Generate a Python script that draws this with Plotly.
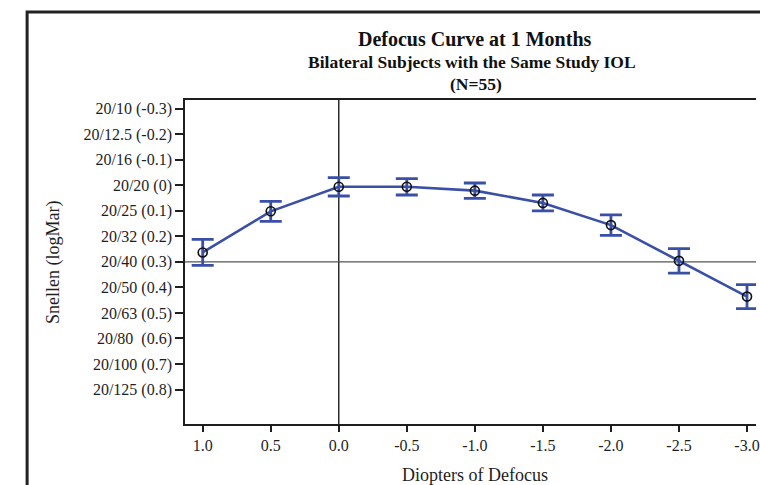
import plotly.graph_objects as go

# ---- data ----
diopters = [1.0, 0.5, 0.0, -0.5, -1.0, -1.5, -2.0, -2.5, -3.0]
diopter_labels = ["1.0", "0.5", "0.0", "-0.5", "-1.0", "-1.5", "-2.0", "-2.5", "-3.0"]
logmar_mean = [0.263, 0.102, 0.006, 0.006, 0.021, 0.069, 0.156, 0.296, 0.436]
logmar_err = [0.051, 0.039, 0.036, 0.032, 0.030, 0.031, 0.040, 0.048, 0.047]

y_tickvals = [-0.3, -0.2, -0.1, 0.0, 0.1, 0.2, 0.3, 0.4, 0.5, 0.6, 0.7, 0.8]
y_ticktext = ["20/10 (-0.3)", "20/12.5 (-0.2)", "20/16 (-0.1)", "20/20 (0)",
              "20/25 (0.1)", "20/32 (0.2)", "20/40 (0.3)", "20/50 (0.4)",
              "20/63 (0.5)", "20/80\u00a0 (0.6)", "20/100 (0.7)", "20/125 (0.8)"]

title_main = "Defocus Curve at 1 Months"
title_sub1 = "Bilateral Subjects with the Same Study IOL"
title_sub2 = "(N=55)"
x_title = "Diopters of Defocus"
y_title = "Snellen (logMar)"

# ---- layout geometry (pixels) ----
W, H = 760, 485
L, R, T, B = 185, 760, 100, 424
PW, PH = R - L, B - T

def px(x):
    return (x - L) / PW

def py(y):
    return (B - y) / PH

FONT = "Liberation Serif, Times New Roman, serif"
BLUE = "#3a4fa6"
INK = "#1e1e1e"

fig = go.Figure()
fig.add_trace(go.Scatter(
    x=diopters, y=logmar_mean,
    mode="lines+markers",
    line=dict(color=BLUE, width=2.6),
    marker=dict(symbol="circle-open", size=9, color="#111111", line=dict(width=1.6)),
    error_y=dict(type="data", array=logmar_err, visible=True,
                 color=BLUE, thickness=2.8, width=11),
    showlegend=False,
    cliponaxis=False,
))

fig.update_layout(
    width=W, height=H,
    margin=dict(l=L, r=W - R, t=T, b=H - B),
    paper_bgcolor="white", plot_bgcolor="white",
    font=dict(family=FONT, size=16, color=INK),
    xaxis=dict(
        range=[1.13, -3.066],
        tickmode="array", tickvals=diopters, ticktext=diopter_labels,
        ticks="outside", ticklen=6, tickwidth=1.5, tickcolor=INK,
        showline=True, linecolor=INK, linewidth=1.6, mirror=True,
        showgrid=False, zeroline=False,
        ticklabeloverflow="allow",
        tickfont=dict(size=16, family=FONT, color=INK),
    ),
    yaxis=dict(
        range=[0.935, -0.334],
        tickmode="array", tickvals=y_tickvals, ticktext=y_ticktext,
        ticks="outside", ticklen=8, tickwidth=1.5, tickcolor=INK,
        showline=True, linecolor=INK, linewidth=1.6,
        showgrid=False, zeroline=False,
        tickfont=dict(size=16, family=FONT, color=INK),
    ),
    shapes=[
        dict(type="line", xref="x", yref="paper", x0=0, x1=0, y0=0, y1=1,
             line=dict(color=INK, width=1.4), layer="below"),
        dict(type="line", xref="paper", yref="y", x0=0, x1=1, y0=0.3, y1=0.3,
             line=dict(color="#555555", width=1.4), layer="below"),
        dict(type="rect", xref="paper", yref="paper",
             x0=px(26), x1=1.3, y0=-0.6, y1=py(12),
             line=dict(color="#222222", width=3), layer="above"),
    ],
    annotations=[
        dict(text="<b>%s</b>" % title_main, xref="paper", yref="paper",
             x=px(477), y=py(39.5), xanchor="center", yanchor="middle",
             showarrow=False, font=dict(family=FONT, size=20, color="#111111")),
        dict(text="<b>%s</b>" % title_sub1, xref="paper", yref="paper",
             x=px(474), y=py(62), xanchor="center", yanchor="middle",
             showarrow=False, font=dict(family=FONT, size=17.5, color="#111111")),
        dict(text="<b>%s</b>" % title_sub2, xref="paper", yref="paper",
             x=px(478), y=py(83.5), xanchor="center", yanchor="middle",
             showarrow=False, font=dict(family=FONT, size=17.5, color="#111111")),
        dict(text=x_title, xref="paper", yref="paper",
             x=px(477), y=py(475), xanchor="center", yanchor="middle",
             showarrow=False, font=dict(family=FONT, size=18, color=INK)),
        dict(text=y_title, xref="paper", yref="paper",
             x=px(52), y=py(262), xanchor="center", yanchor="middle",
             textangle=-90,
             showarrow=False, font=dict(family=FONT, size=18, color=INK)),
    ],
)

fig.write_html(
    "out.html",
    config={"displayModeBar": False},
    post_script="document.documentElement.style.margin='0';"
                "document.body.style.margin='0';"
                "document.body.style.overflow='hidden';"
                "document.documentElement.style.overflow='hidden';",
)
